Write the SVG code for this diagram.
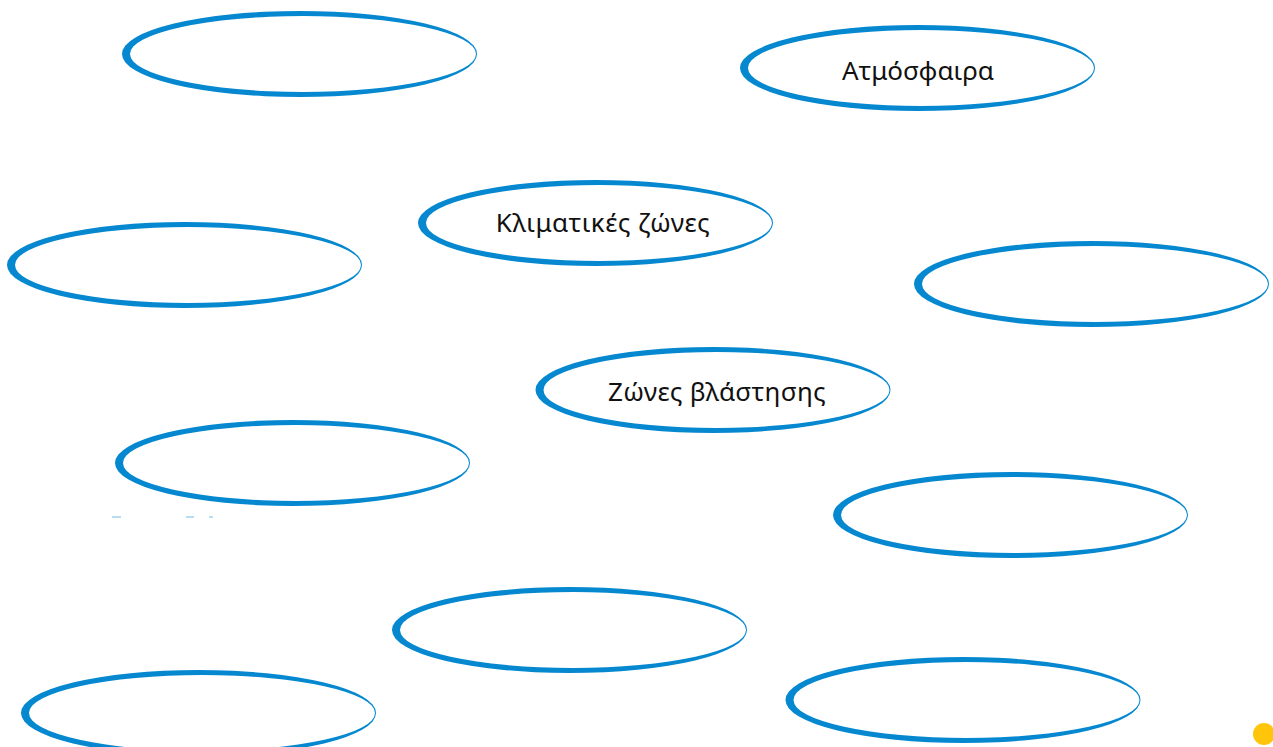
<svg xmlns="http://www.w3.org/2000/svg" xmlns:xlink="http://www.w3.org/1999/xlink" width="1273" height="747" viewBox="0 0 1273 747">
<style>
.ring{fill:#0588cf;fill-rule:evenodd}
.lbl{font-family:"Noto Sans","Open Sans","DejaVu Sans",sans-serif;font-size:26px;fill:#111;text-anchor:middle}
</style>
<defs>
<path id="brush" d="M-177.5,0 A177.5,43 0 1,0 177.5,0 A177.5,43 0 1,0 -177.5,0 Z M-169.5,0 A173,38 0 1,0 176.5,0 A173,38 0 1,0 -169.5,0 Z"/>
</defs>
<rect width="1273" height="747" fill="#fff"/>
<g id="connectors"></g>
<g id="node1"><use xlink:href="#brush" class="ring" transform="translate(299.5,54)"/></g>
<g id="node2"><use xlink:href="#brush" class="ring" transform="translate(917.5,68)"/><text class="lbl" x="918" y="80">Ατμόσφαιρα</text></g>
<g id="node3"><use xlink:href="#brush" class="ring" transform="translate(595.5,223)"/><text class="lbl" x="603" y="232" letter-spacing="0.5">Κλιματικές ζώνες</text></g>
<g id="node6"><use xlink:href="#brush" class="ring" transform="translate(713,390)"/><text class="lbl" x="717" y="401" letter-spacing="0.3">Ζώνες βλάστησης</text></g>
<g id="node4"><use xlink:href="#brush" class="ring" transform="translate(184.5,265)"/></g>
<g id="node5"><use xlink:href="#brush" class="ring" transform="translate(1091.5,284)"/></g>
<g id="node7"><use xlink:href="#brush" class="ring" transform="translate(292.5,463)"/></g>
<g id="node8"><use xlink:href="#brush" class="ring" transform="translate(1010.5,515)"/></g>
<g id="node9"><use xlink:href="#brush" class="ring" transform="translate(569.5,630)"/></g>
<g id="node10"><use xlink:href="#brush" class="ring" transform="translate(198.5,713)"/></g>
<g id="node11"><use xlink:href="#brush" class="ring" transform="translate(963,700)"/></g>
<g id="marks" fill="#b9def3">
<rect x="112" y="516" width="9" height="2"/>
<rect x="186" y="516" width="8" height="2"/>
<rect x="209" y="516" width="4" height="2"/>
</g>
<circle cx="1264" cy="734" r="11" fill="#ffc50a"/>
</svg>
